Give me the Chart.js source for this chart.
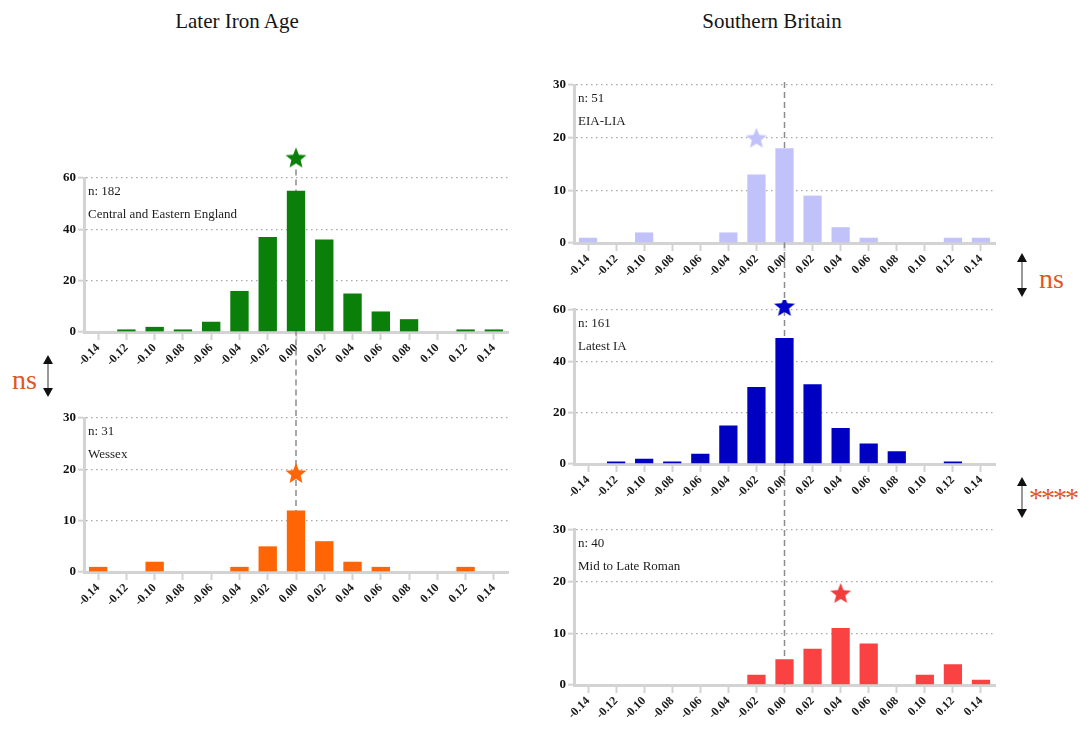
<!DOCTYPE html>
<html>
<head>
<meta charset="utf-8">
<title>Later Iron Age / Southern Britain</title>
<script src="https://cdn.jsdelivr.net/npm/chart.js@4.4.1/dist/chart.umd.min.js"></script>
<style>
  html, body { margin: 0; padding: 0; background: #ffffff; }
  body { width: 1080px; height: 729px; position: relative; overflow: hidden; font-family: "Liberation Serif", "DejaVu Serif", serif; }
  .panel { position: absolute; }
  .panel canvas { display: block; }
  .title { position: absolute; top: 9px; font-size: 21px; color: #151515; transform: translateX(-50%); white-space: nowrap; }
  .sig { position: absolute; color: #e2561f; white-space: nowrap; line-height: 1; }
  svg.marks { position: absolute; left: 0; top: 0; pointer-events: none; }
</style>
</head>
<body>

<div class="title" style="left:237px;">Later Iron Age</div>
<div class="title" style="left:772px;">Southern Britain</div>

<div class="panel" style="left:40px;top:140px;width:480px;height:260px;"><canvas id="cA"></canvas></div>
<div class="panel" style="left:40px;top:400px;width:480px;height:225px;"><canvas id="cB"></canvas></div>
<div class="panel" style="left:530px;top:60px;width:470px;height:240px;"><canvas id="cC"></canvas></div>
<div class="panel" style="left:530px;top:300px;width:470px;height:220px;"><canvas id="cD"></canvas></div>
<div class="panel" style="left:530px;top:520px;width:470px;height:209px;"><canvas id="cE"></canvas></div>

<div class="sig" style="left:12px;top:366px;font-size:28px;">ns</div>
<div class="sig" style="left:1039px;top:265px;font-size:28px;">ns</div>
<div class="sig" style="left:1029px;top:484px;font-size:28px;letter-spacing:-2px;">****</div>

<svg class="marks" width="1080" height="729">
  <g stroke="#777" stroke-width="1.5">
    <line x1="48" y1="362" x2="48" y2="390"/>
    <line x1="1022" y1="260" x2="1022" y2="290"/>
    <line x1="1022" y1="484" x2="1022" y2="511"/>
  </g>
  <g fill="#111">
    <polygon points="48,355 43,364 53,364"/>
    <polygon points="48,397 43,388 53,388"/>
    <polygon points="1022,253 1017,262 1027,262"/>
    <polygon points="1022,297 1017,288 1027,288"/>
    <polygon points="1022,477 1017,486 1027,486"/>
    <polygon points="1022,518 1017,509 1027,509"/>
  </g>
</svg>

<script>
// Bin centres of the distribution (shared by every panel)
const binLabels = ['-0.14', '-0.12', '-0.10', '-0.08', '-0.06', '-0.04', '-0.02', '0.00',
                   '0.02', '0.04', '0.06', '0.08', '0.10', '0.12', '0.14'];

// Counts per bin
const centralEasternEngland = [0, 1, 2, 1, 4, 16, 37, 55, 36, 15, 8, 5, 0, 1, 1];
const wessex                = [1, 0, 2, 0, 0, 1, 5, 12, 6, 2, 1, 0, 0, 1, 0];
const eiaLia                = [1, 0, 2, 0, 0, 2, 13, 18, 9, 3, 1, 0, 0, 1, 1];
const latestIa              = [0, 1, 2, 1, 4, 15, 30, 49, 31, 14, 8, 5, 0, 1, 0];
const midToLateRoman        = [0, 0, 0, 0, 0, 0, 2, 5, 7, 11, 8, 0, 2, 4, 1];

// Sample sizes and group names
const sampleSizes = [182, 31, 51, 161, 40];
const groupNames  = ['Central and Eastern England', 'Wessex', 'EIA-LIA', 'Latest IA', 'Mid to Late Roman'];

// Star markers: bin index and height for each group
const starBins    = [7, 7, 6, 7, 9];
const starHeights = [68, 19.3, 20, 61.5, 17.8];

// Axis ranges
const yMaxima = [60, 30, 30, 60, 30];
const ySteps  = [20, 10, 10, 20, 10];

const zeroBin = binLabels.indexOf('0.00');

function starImage(color, r) {
  const s = Math.ceil(r * 2) + 2;
  const c = document.createElement('canvas');
  c.width = s; c.height = s;
  const g = c.getContext('2d');
  g.fillStyle = color;
  g.beginPath();
  for (let k = 0; k < 10; k++) {
    const rad = k % 2 === 0 ? r : r * 0.44;
    const a = -Math.PI / 2 + k * Math.PI / 5;
    g.lineTo(s / 2 + rad * Math.cos(a), s / 2 + r * 0.1 + rad * Math.sin(a));
  }
  g.closePath();
  g.fill();
  return c;
}

// Vertical dashed reference line through the 0.00 bin
const zeroLine = {
  id: 'zeroLine',
  beforeDatasetsDraw(chart, args, o) {
    const ctx = chart.ctx;
    const x = chart.scales.x.getPixelForValue(o.index);
    let y0 = 0;
    if (o.from === 'star') y0 = chart.scales.y.getPixelForValue(o.value) + 12;
    else if (o.from === 'area') y0 = chart.chartArea.top - 3;
    const y1 = o.to === 'area' ? chart.chartArea.bottom : chart.height;
    ctx.save();
    ctx.strokeStyle = '#8c8c8c';
    ctx.lineWidth = 1.5;
    ctx.setLineDash([6, 4]);
    ctx.beginPath();
    ctx.moveTo(x, y0);
    ctx.lineTo(x, y1);
    ctx.stroke();
    ctx.restore();
  }
};

// Star marker placed through the chart's own scales
const starMarker = {
  id: 'starMarker',
  afterDatasetsDraw(chart, args, o) {
    const x = chart.scales.x.getPixelForValue(o.bin);
    const y = chart.scales.y.getPixelForValue(o.value);
    const img = o.image;
    chart.ctx.drawImage(img, x - img.width / 2, y - img.height / 2);
  }
};

// Sample size and group name in the top-left corner of each panel
const panelText = {
  id: 'panelText',
  afterDraw(chart, args, o) {
    const ctx = chart.ctx;
    ctx.save();
    ctx.font = '13px "Liberation Serif", serif';
    ctx.fillStyle = '#1c1c1c';
    ctx.textBaseline = 'middle';
    ctx.textAlign = 'left';
    o.lines.forEach((t, i) => ctx.fillText(t, chart.chartArea.left + 4, chart.chartArea.top + 14 + i * 23));
    ctx.restore();
  }
};

const axisGray = '#d3d3d3';

function makePanel(cfg) {
  const i = cfg.group;
  new Chart(document.getElementById(cfg.canvas), {
    type: 'bar',
    data: {
      labels: binLabels,
      datasets: [{
        data: cfg.values,
        backgroundColor: cfg.color,
        borderWidth: 0,
        categoryPercentage: 1,
        barPercentage: 0.65
      }]
    },
    options: {
      responsive: true,
      maintainAspectRatio: false,
      animation: false,
      events: [],
      layout: { padding: { top: cfg.padTop, right: cfg.padRight, left: 0, bottom: 0 } },
      plugins: {
        legend: { display: false },
        tooltip: { enabled: false },
        zeroLine: { index: zeroBin, from: cfg.dashFrom, to: cfg.dashTo, value: starHeights[i] },
        starMarker: { bin: starBins[i], value: starHeights[i], image: starImage(cfg.starColor, 11) },
        panelText: { lines: ['n: ' + sampleSizes[i], groupNames[i]] }
      },
      scales: {
        x: {
          offset: true,
          afterFit(s) { s.height = cfg.xHeight; },
          border: { color: axisGray, width: 3 },
          grid: { offset: false, drawOnChartArea: false, drawTicks: true, tickLength: 8,
                  tickColor: axisGray, tickWidth: 2, tickBorderDash: [] },
          ticks: {
            autoSkip: false, minRotation: 45, maxRotation: 45, padding: 1,
            color: '#1a1a1a',
            font: { family: '"Liberation Serif", serif', size: 12, weight: 'bold' }
          }
        },
        y: {
          min: 0, max: yMaxima[i],
          afterFit(s) { s.width = cfg.yWidth; },
          border: { color: axisGray, width: 3, dash: [1.5, 3.5] },
          grid: { color: '#a8a8a8', lineWidth: 1.3, drawTicks: true, tickLength: 6,
                  tickColor: axisGray, tickWidth: 2, tickBorderDash: [] },
          ticks: {
            stepSize: ySteps[i], padding: 2, color: '#111',
            font: { family: '"Liberation Serif", serif', size: 13, weight: 'bold' }
          }
        }
      }
    },
    plugins: [zeroLine, starMarker, panelText]
  });
}

makePanel({ canvas: 'cA', group: 0, values: centralEasternEngland, color: '#0a800a', starColor: '#0a800a',
            padTop: 38, padRight: 12, yWidth: 44, xHeight: 68, dashFrom: 'star', dashTo: 'canvas' });
makePanel({ canvas: 'cB', group: 1, values: wessex, color: '#ff6505', starColor: '#ff6505',
            padTop: 18, padRight: 12, yWidth: 44, xHeight: 53, dashFrom: 'top', dashTo: 'area' });
makePanel({ canvas: 'cC', group: 2, values: eiaLia, color: '#c2c2fa', starColor: '#c2c2fa',
            padTop: 25, padRight: 5, yWidth: 44, xHeight: 57, dashFrom: 'area', dashTo: 'canvas' });
makePanel({ canvas: 'cD', group: 3, values: latestIa, color: '#0000c2', starColor: '#0000c8',
            padTop: 7, padRight: 5, yWidth: 44, xHeight: 56, dashFrom: 'top', dashTo: 'canvas' });
makePanel({ canvas: 'cE', group: 4, values: midToLateRoman, color: '#fa4242', starColor: '#f23c3c',
            padTop: 8, padRight: 5, yWidth: 44, xHeight: 44, dashFrom: 'top', dashTo: 'area' });
</script>
</body>
</html>
